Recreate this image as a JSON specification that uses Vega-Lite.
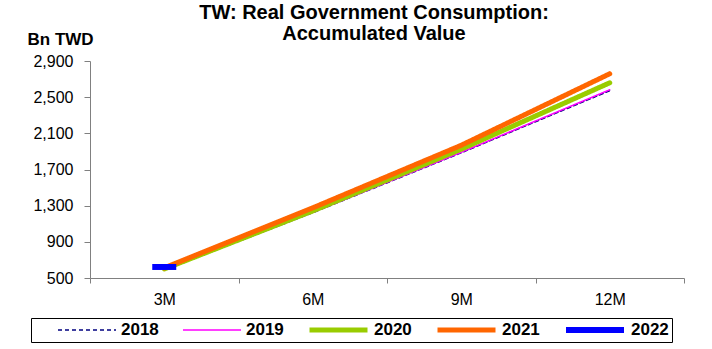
{
  "$schema": "https://vega.github.io/schema/vega-lite/v6.json",
  "autosize": "none",
  "width": 594,
  "height": 217,
  "padding": {"left": 90, "top": 61, "right": 28, "bottom": 71},
  "background": "white",
  "config": {
    "view": {"stroke": null},
    "font": "Liberation Sans",
    "axis": {"labelOverlap": false}
  },
  "title": {
    "text": ["TW: Real Government Consumption:", "Accumulated Value"],
    "fontSize": 20,
    "font": "Liberation Sans",
    "fontWeight": "bold",
    "color": "black",
    "anchor": "middle",
    "dx": -13,
    "dy": 18,
    "lineHeight": 21
  },
  "encoding": {
    "x": {
      "field": "period",
      "type": "ordinal",
      "sort": ["3M", "6M", "9M", "12M"],
      "scale": {"domain": ["3M", "6M", "9M", "12M"], "paddingInner": 0, "paddingOuter": 0},
      "axis": {
        "title": null,
        "labelAngle": 0,
        "labelFontSize": 16,
        "labelColor": "black",
        "labelPadding": 8,
        "tickBand": "extent",
        "tickSize": 5,
        "tickColor": "#808080",
        "domainColor": "#808080",
        "grid": false
      }
    },
    "y": {
      "field": "value",
      "type": "quantitative",
      "scale": {"domain": [500, 2900], "nice": false, "zero": false},
      "axis": {
        "title": "Bn TWD",
        "titleAngle": 0,
        "titleAlign": "left",
        "titleBaseline": "alphabetic",
        "titleX": -63,
        "titleY": -17,
        "titleFontSize": 17,
        "titleFontWeight": "bold",
        "titleColor": "black",
        "values": [500, 900, 1300, 1700, 2100, 2500, 2900],
        "format": ",.0f",
        "labelOverlap": false,
        "labelFontSize": 16,
        "labelColor": "black",
        "labelPadding": 11,
        "tickSize": 6,
        "tickColor": "#808080",
        "domainColor": "#808080",
        "grid": false
      }
    }
  },
  "layer": [
    {
      "data": {
        "values": [
          {"year": "2018", "period": "3M", "value": 590},
          {"year": "2018", "period": "6M", "value": 1222},
          {"year": "2018", "period": "9M", "value": 1885},
          {"year": "2018", "period": "12M", "value": 2572},
          {"year": "2019", "period": "3M", "value": 592},
          {"year": "2019", "period": "6M", "value": 1226},
          {"year": "2019", "period": "9M", "value": 1890},
          {"year": "2019", "period": "12M", "value": 2582},
          {"year": "2020", "period": "3M", "value": 600},
          {"year": "2020", "period": "6M", "value": 1242},
          {"year": "2020", "period": "9M", "value": 1925},
          {"year": "2020", "period": "12M", "value": 2659},
          {"year": "2021", "period": "3M", "value": 612},
          {"year": "2021", "period": "6M", "value": 1276},
          {"year": "2021", "period": "9M", "value": 1968},
          {"year": "2021", "period": "12M", "value": 2759}
        ]
      },
      "mark": {"type": "line", "strokeCap": "round", "strokeJoin": "round"},
      "encoding": {
        "color": {
          "field": "year",
          "type": "ordinal",
          "scale": {
            "type": "ordinal",
            "domain": ["2018", "2019", "2020", "2021", "2022"],
            "range": ["#000080", "#FF00FF", "#99CC00", "#FF6600", "#0000FF"]
          },
          "legend": {
            "title": null,
            "orient": "none",
            "legendX": -59,
            "legendY": 257,
            "direction": "horizontal",
            "symbolType": "stroke",
            "symbolSize": 3364,
            "clipHeight": 18,
            "labelFontSize": 17,
            "labelFontWeight": "bold",
            "labelColor": "black",
            "labelOffset": 4,
            "columnPadding": 0,
            "symbolOffset": 23,
            "padding": 3,
            "strokeColor": "black",
            "fillColor": "white"
          }
        },
        "strokeWidth": {
          "field": "year",
          "type": "ordinal",
          "scale": {
            "type": "ordinal",
            "domain": ["2018", "2019", "2020", "2021", "2022"],
            "range": [1.5, 1.5, 5, 5, 6]
          },
          "legend": {"title": null}
        },
        "strokeDash": {
          "field": "year",
          "type": "ordinal",
          "scale": {
            "type": "ordinal",
            "domain": ["2018", "2019", "2020", "2021", "2022"],
            "range": [[4, 3], [1, 0], [1, 0], [1, 0], [1, 0]]
          },
          "legend": {"title": null}
        }
      }
    },
    {
      "data": {
        "values": [
          {"year": "2022", "period": "3M", "value": 622}
        ]
      },
      "mark": {"type": "tick", "color": "#0000FF", "size": 24, "thickness": 6, "opacity": 1}
    }
  ]
}
